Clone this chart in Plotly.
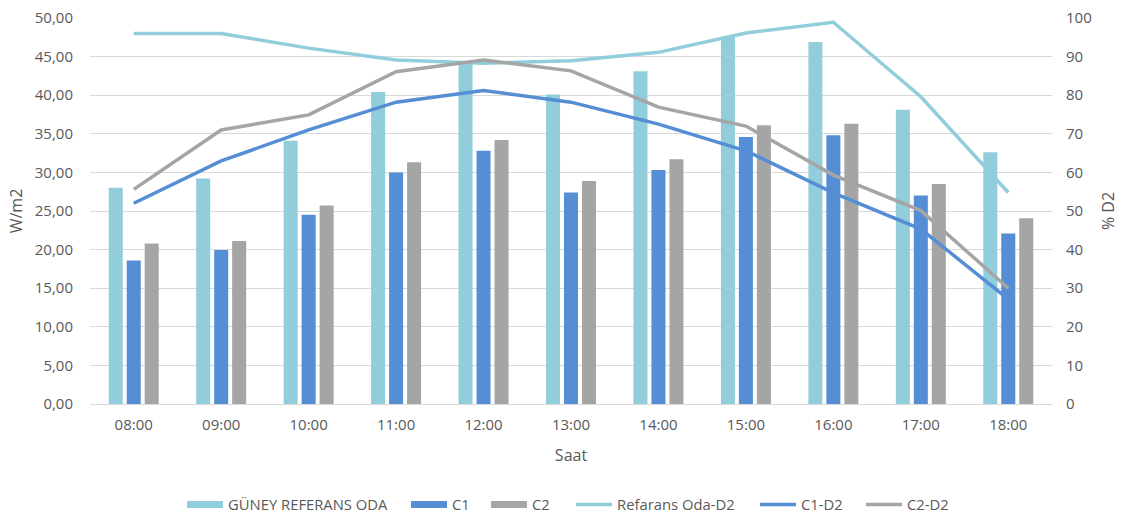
import plotly.graph_objects as go

hours = ["08:00", "09:00", "10:00", "11:00", "12:00", "13:00", "14:00", "15:00", "16:00", "17:00", "18:00"]
guney = [28.0, 29.2, 34.1, 40.4, 44.2, 40.1, 43.1, 47.5, 46.9, 38.1, 32.6]
c1 = [18.6, 19.95, 24.5, 30.0, 32.8, 27.4, 30.3, 34.6, 34.8, 27.0, 22.1]
c2 = [20.8, 21.1, 25.7, 31.3, 34.2, 28.9, 31.7, 36.1, 36.3, 28.5, 24.05]
ref_d2 = [96.0, 96.0, 92.2, 89.1, 88.3, 88.9, 91.1, 96.1, 98.9, 79.6, 54.8]
c1_d2 = [52.0, 63.0, 71.0, 78.2, 81.2, 78.2, 72.5, 65.6, 54.7, 45.3, 27.2]
c2_d2 = [55.6, 71.0, 74.9, 86.1, 89.1, 86.3, 76.9, 72.0, 59.3, 50.1, 30.0]

bar_names = ["GÜNEY REFERANS ODA", "C1", "C2"]
line_names = ["Refarans Oda-D2", "C1-D2", "C2-D2"]

LB = "#92CDDC"
BL = "#558ED5"
GR = "#A5A5A5"
TXT = "#595959"
FONT = "Open Sans"

legend_ids = ["legend", "legend2", "legend3", "legend4", "legend5", "legend6"]
legend_px = [182, 406, 486, 571, 755, 861]

fig = go.Figure()
for i, (name, vals, col) in enumerate(zip(bar_names, [guney, c1, c2], [LB, BL, GR])):
    fig.add_trace(go.Bar(x=hours, y=vals, name=name, legendgroup=name, showlegend=False,
                         marker=dict(color=col, line=dict(width=0))))
    # legend entry drawn as a wide block, as in the original chart
    fig.add_trace(go.Scatter(x=[None], y=[None], name=name, legendgroup=name, mode="lines",
                             legend=legend_ids[i], line=dict(color=col, width=7)))
for j, (name, vals, col) in enumerate(zip(line_names, [ref_d2, c1_d2, c2_d2], [LB, BL, GR])):
    fig.add_trace(go.Scatter(x=hours, y=vals, name=name, mode="lines", legend=legend_ids[3 + j],
                             line=dict(color=col, width=3.5), yaxis="y2"))

W, H = 1121, 516
legend_style = dict(orientation="h", xanchor="left", xref="container", yref="container",
                    y=1 - 505 / H, yanchor="middle",
                    font=dict(size=14.8, color=TXT), itemwidth=36, bgcolor="rgba(0,0,0,0)")
legends = {lid: dict(legend_style, x=px / W) for lid, px in zip(legend_ids, legend_px)}

fig.update_layout(
    width=W, height=H,
    margin=dict(l=90, r=69, t=18, b=112),
    paper_bgcolor="white", plot_bgcolor="white",
    font=dict(family=FONT, size=15, color=TXT),
    barmode="group", bargap=0.383, bargroupgap=0.22,
    separators=",.",
    showlegend=True,
    xaxis=dict(title=dict(text="Saat", font=dict(size=16, color=TXT), standoff=16),
               automargin=False, showgrid=False, showline=True, linecolor="#D9D9D9", linewidth=1,
               ticks="", ticklabelstandoff=7, tickfont=dict(size=15, color=TXT)),
    yaxis=dict(title=dict(text="W/m2", font=dict(size=16, color=TXT), standoff=8),
               automargin=False, range=[0, 50], dtick=5, tickformat=".2f",
               showgrid=True, gridcolor="#D9D9D9", gridwidth=1, zeroline=False,
               tickfont=dict(size=15, color=TXT), ticks="", ticklabelstandoff=16, showline=False),
    yaxis2=dict(title=dict(text="% D2", font=dict(size=16, color=TXT), standoff=12),
                automargin=False, overlaying="y", side="right", range=[0, 100], dtick=10,
                showgrid=False, zeroline=False, ticklabelstandoff=13,
                tickfont=dict(size=15, color=TXT), ticks=""),
    **legends,
)

fig.write_html("out.html", config={"displayModeBar": False},
               post_script="document.body.style.margin='0';")
